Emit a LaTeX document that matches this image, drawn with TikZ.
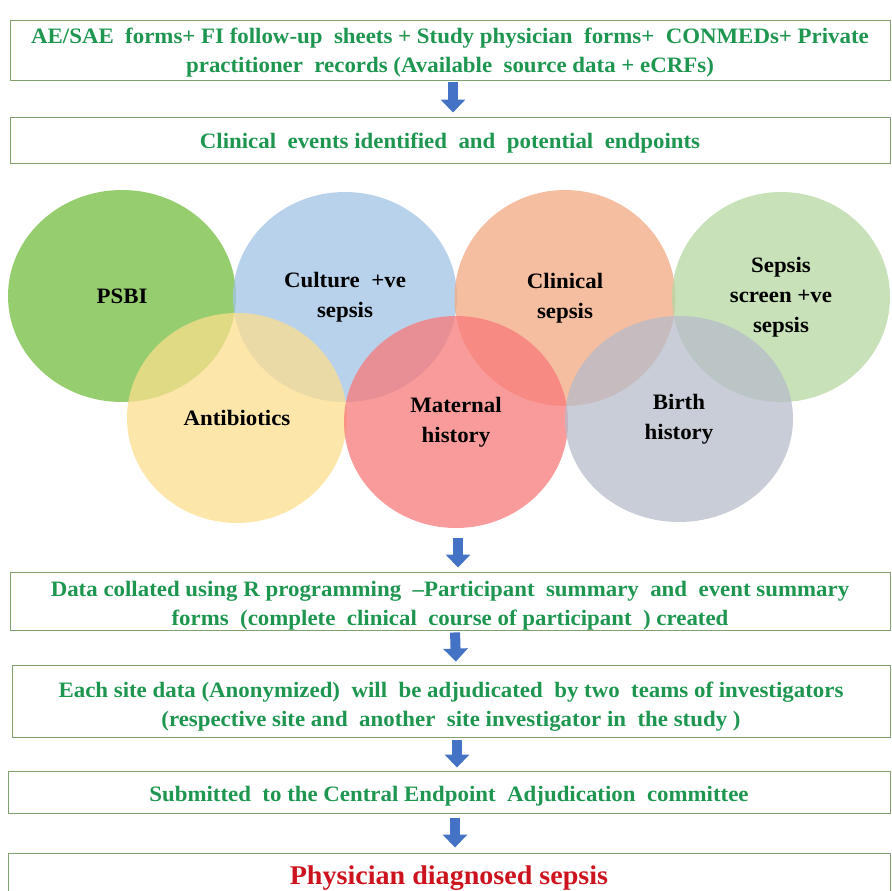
\documentclass[tikz,border=0pt]{standalone}
\usepackage{fontspec}
\setmainfont[FakeStretch=1.04]{Liberation Serif}
\usetikzlibrary{arrows.meta,shapes.geometric}
\definecolor{txtgreen}{RGB}{30,150,80}
\definecolor{boxline}{RGB}{130,160,110}
\definecolor{arrowblue}{RGB}{68,114,196}
\definecolor{txtred}{RGB}{205,20,30}
\definecolor{cgreen}{RGB}{115,188,62}
\definecolor{cblue}{RGB}{162,195,229}
\definecolor{corange}{RGB}{242,168,128}
\definecolor{clgreen}{RGB}{182,215,162}
\definecolor{cyellow}{RGB}{251,222,142}
\definecolor{cred}{RGB}{248,122,122}
\definecolor{cgray}{RGB}{182,188,202}
\begin{document}
\begin{tikzpicture}[x=1pt,y=-1pt,
  box/.style={draw=boxline, line width=0.9pt, inner sep=0pt},
  boxtext/.style={text=txtgreen, align=center, inner sep=0pt,
    font=\bfseries\fontsize{22}{29}\selectfont},
  blob/.style={ellipse, fill=#1, fill opacity=0.75, text opacity=1, draw=none, align=center,
    font=\bfseries\fontsize{22}{30}\selectfont, inner sep=0pt},
  barrow/.style={draw=arrowblue, line width=10pt, -{Triangle[width=24pt,length=13pt]}}
]
\useasboundingbox (0,0) rectangle (891,891);

% boxes
\node[box, minimum width=880pt, minimum height=60pt] (b1) at (450,50) {};
\node[boxtext] (t1) at ([yshift=-3pt]b1.center)
  {AE/SAE~ forms+ FI follow-up~ sheets + Study physician~ forms+~ CONMEDs+ Private\\
   practitioner~ records (Available~ source data + eCRFs)};
\node[box, minimum width=880pt, minimum height=46pt] (b2) at (450,140) {};
\node[boxtext] (t2) at ([yshift=-3pt]b2.center)
  {Clinical~ events identified~ and~ potential~ endpoints};

% ellipses
\node[blob=cgreen,  minimum width=228pt, minimum height=212pt] (psbi) at (122,296) {PSBI};
\node[blob=cblue,   minimum width=224pt, minimum height=210pt] (cult) at (345,297) {Culture~ +ve\\sepsis};
\node[blob=corange, minimum width=221pt, minimum height=216pt] (clin) at (565,298) {Clinical\\sepsis};
\node[blob=clgreen, minimum width=218pt, minimum height=210pt] (scr)  at (781,297) {Sepsis\\screen +ve\\sepsis};
\node[blob=cyellow, minimum width=220pt, minimum height=210pt] (anti) at (237,418) {Antibiotics};
\node[blob=cred,    minimum width=224pt, minimum height=212pt] (mat)  at (456,422) {Maternal\\history};
\node[blob=cgray,   minimum width=228pt, minimum height=206pt] (birth) at (679,419) {Birth\\history};

\node[box, minimum width=880pt, minimum height=58pt] (b3) at (450,601) {};
\node[boxtext] (t3) at ([yshift=-5pt]b3.center)
  {Data collated using R programming~ –Participant~ summary~ and~ event summary\\
   forms~ (complete~ clinical~ course of participant~ ) created};
\node[box, minimum width=878pt, minimum height=72pt] (b4) at (451,701) {};
\node[boxtext] (t4) at ([yshift=-6pt]b4.center)
  {Each site data (Anonymized)~ will~ be adjudicated~ by two~ teams of investigators\\
   (respective site and~ another~ site investigator in~ the study )};
\node[box, minimum width=882pt, minimum height=42pt] (b5) at (449,792) {};
\node[boxtext] (t5) at ([yshift=-4pt]b5.center)
  {Submitted~ to the Central Endpoint~ Adjudication~ committee};
\node[box, minimum width=882pt, minimum height=46pt] (b6) at (449,876) {};
\node[boxtext, text=txtred, font=\bfseries\fontsize{27}{30}\selectfont] (t6)
  at ([yshift=-2pt]b6.center) {Physician diagnosed sepsis};

\coordinate (vstart) at (458,538);

% arrows
\draw[barrow, shorten <=2pt, shorten >=4pt] ([xshift=3pt]b1.south) -- ([xshift=3pt]b2.north);
\draw[barrow, shorten >=4pt] (vstart) -- (vstart |- b3.north);
\draw[barrow, shorten <=2pt, shorten >=3pt] ([xshift=5pt]b3.south) -- ([xshift=5pt]b4.north);
\draw[barrow, shorten <=3pt, shorten >=3pt] ([xshift=6pt]b4.south) -- ([xshift=6pt]b4.south |- b5.north);
\draw[barrow, shorten <=5pt, shorten >=5pt] ([xshift=6pt]b5.south) -- ([xshift=6pt]b5.south |- b6.north);
\end{tikzpicture}
\end{document}
